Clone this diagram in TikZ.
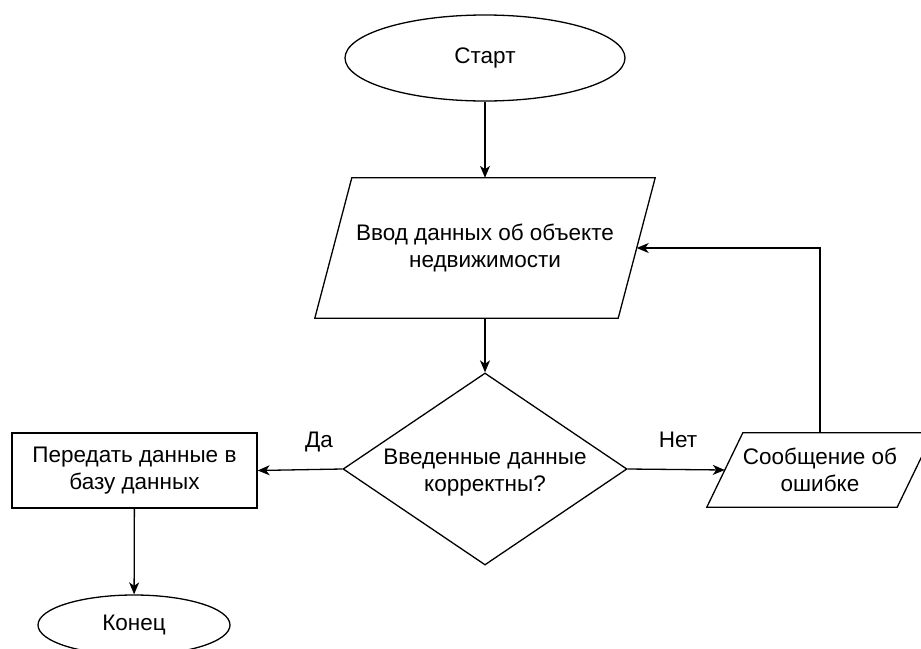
\documentclass[tikz,border=0pt]{standalone}
\usepackage{fontspec}
\setmainfont{Liberation Sans}
\usetikzlibrary{shapes.geometric,arrows.meta}

\tikzset{
  every node/.style={font=\fontsize{22.5}{27}\selectfont, align=center},
  blk/.style={draw, line width=1.3pt, fill=white, inner sep=0pt},
  term/.style={blk, ellipse},
  % box of a parallelogram; its outline is drawn by \slantbox below
  io/.style={rectangle, inner sep=0pt},
  proc/.style={blk, rectangle},
  cond/.style={blk, diamond},
  outline/.style={line width=1.3pt},
  arr/.style={line width=1.3pt, -{Stealth[length=12pt,width=10pt,inset=3.5pt]}},
  lbl/.style={inner sep=0pt},
}
% outline of a right-leaning parallelogram filling node #1, slant #2
\newcommand\slantbox[2]{%
  \draw[outline] ([xshift=#2]#1.north west) -- (#1.north east)
    -- ([xshift=-#2]#1.south east) -- (#1.south west) -- cycle;}

\begin{document}
\begin{tikzpicture}[x=1pt, y=-1pt]
  \useasboundingbox (0,0) rectangle (921,648);

  % blocks
  \node[term, minimum width=280pt, minimum height=86pt] (start) at (485,58) {Старт};
  \node[io, minimum width=340pt, minimum height=140pt] (in) at (485,248)
        {Ввод данных об объекте\\недвижимости};
  \slantbox{in}{37pt}
  \node[cond, minimum width=284pt, minimum height=192pt,
        label={[lbl,yshift=-4pt]center:Введенные данные\\корректны?}] (dec) at (485,469) {};
  \node[proc, minimum width=245pt, minimum height=75pt] (db) at (134.5,470.5)
        {Передать данные в\\базу данных};
  \node[term, minimum width=192pt, minimum height=60pt] (end) at (134,625) {Конец};
  \node[io, minimum width=226pt, minimum height=74pt] (msg) at (820,470)
        {Сообщение об\\ошибке};
  \slantbox{msg}{36pt}

  % branch labels
  \node[lbl] (yes) at (319,442) {Да};
  \node[lbl] (no) at (678,440) {Нет};

  % connectors
  \draw[arr] (start) -- (in.north);
  \draw[arr] (in.south) -- (dec);
  \draw[arr] (dec.west) -- (db.east);
  \draw[arr] (dec.east) -- ([xshift=18pt]msg.west);
  \draw[arr] (db) -- (end);
  \draw[arr] (msg.north) |- ([xshift=-18.5pt]in.east);
\end{tikzpicture}
\end{document}
